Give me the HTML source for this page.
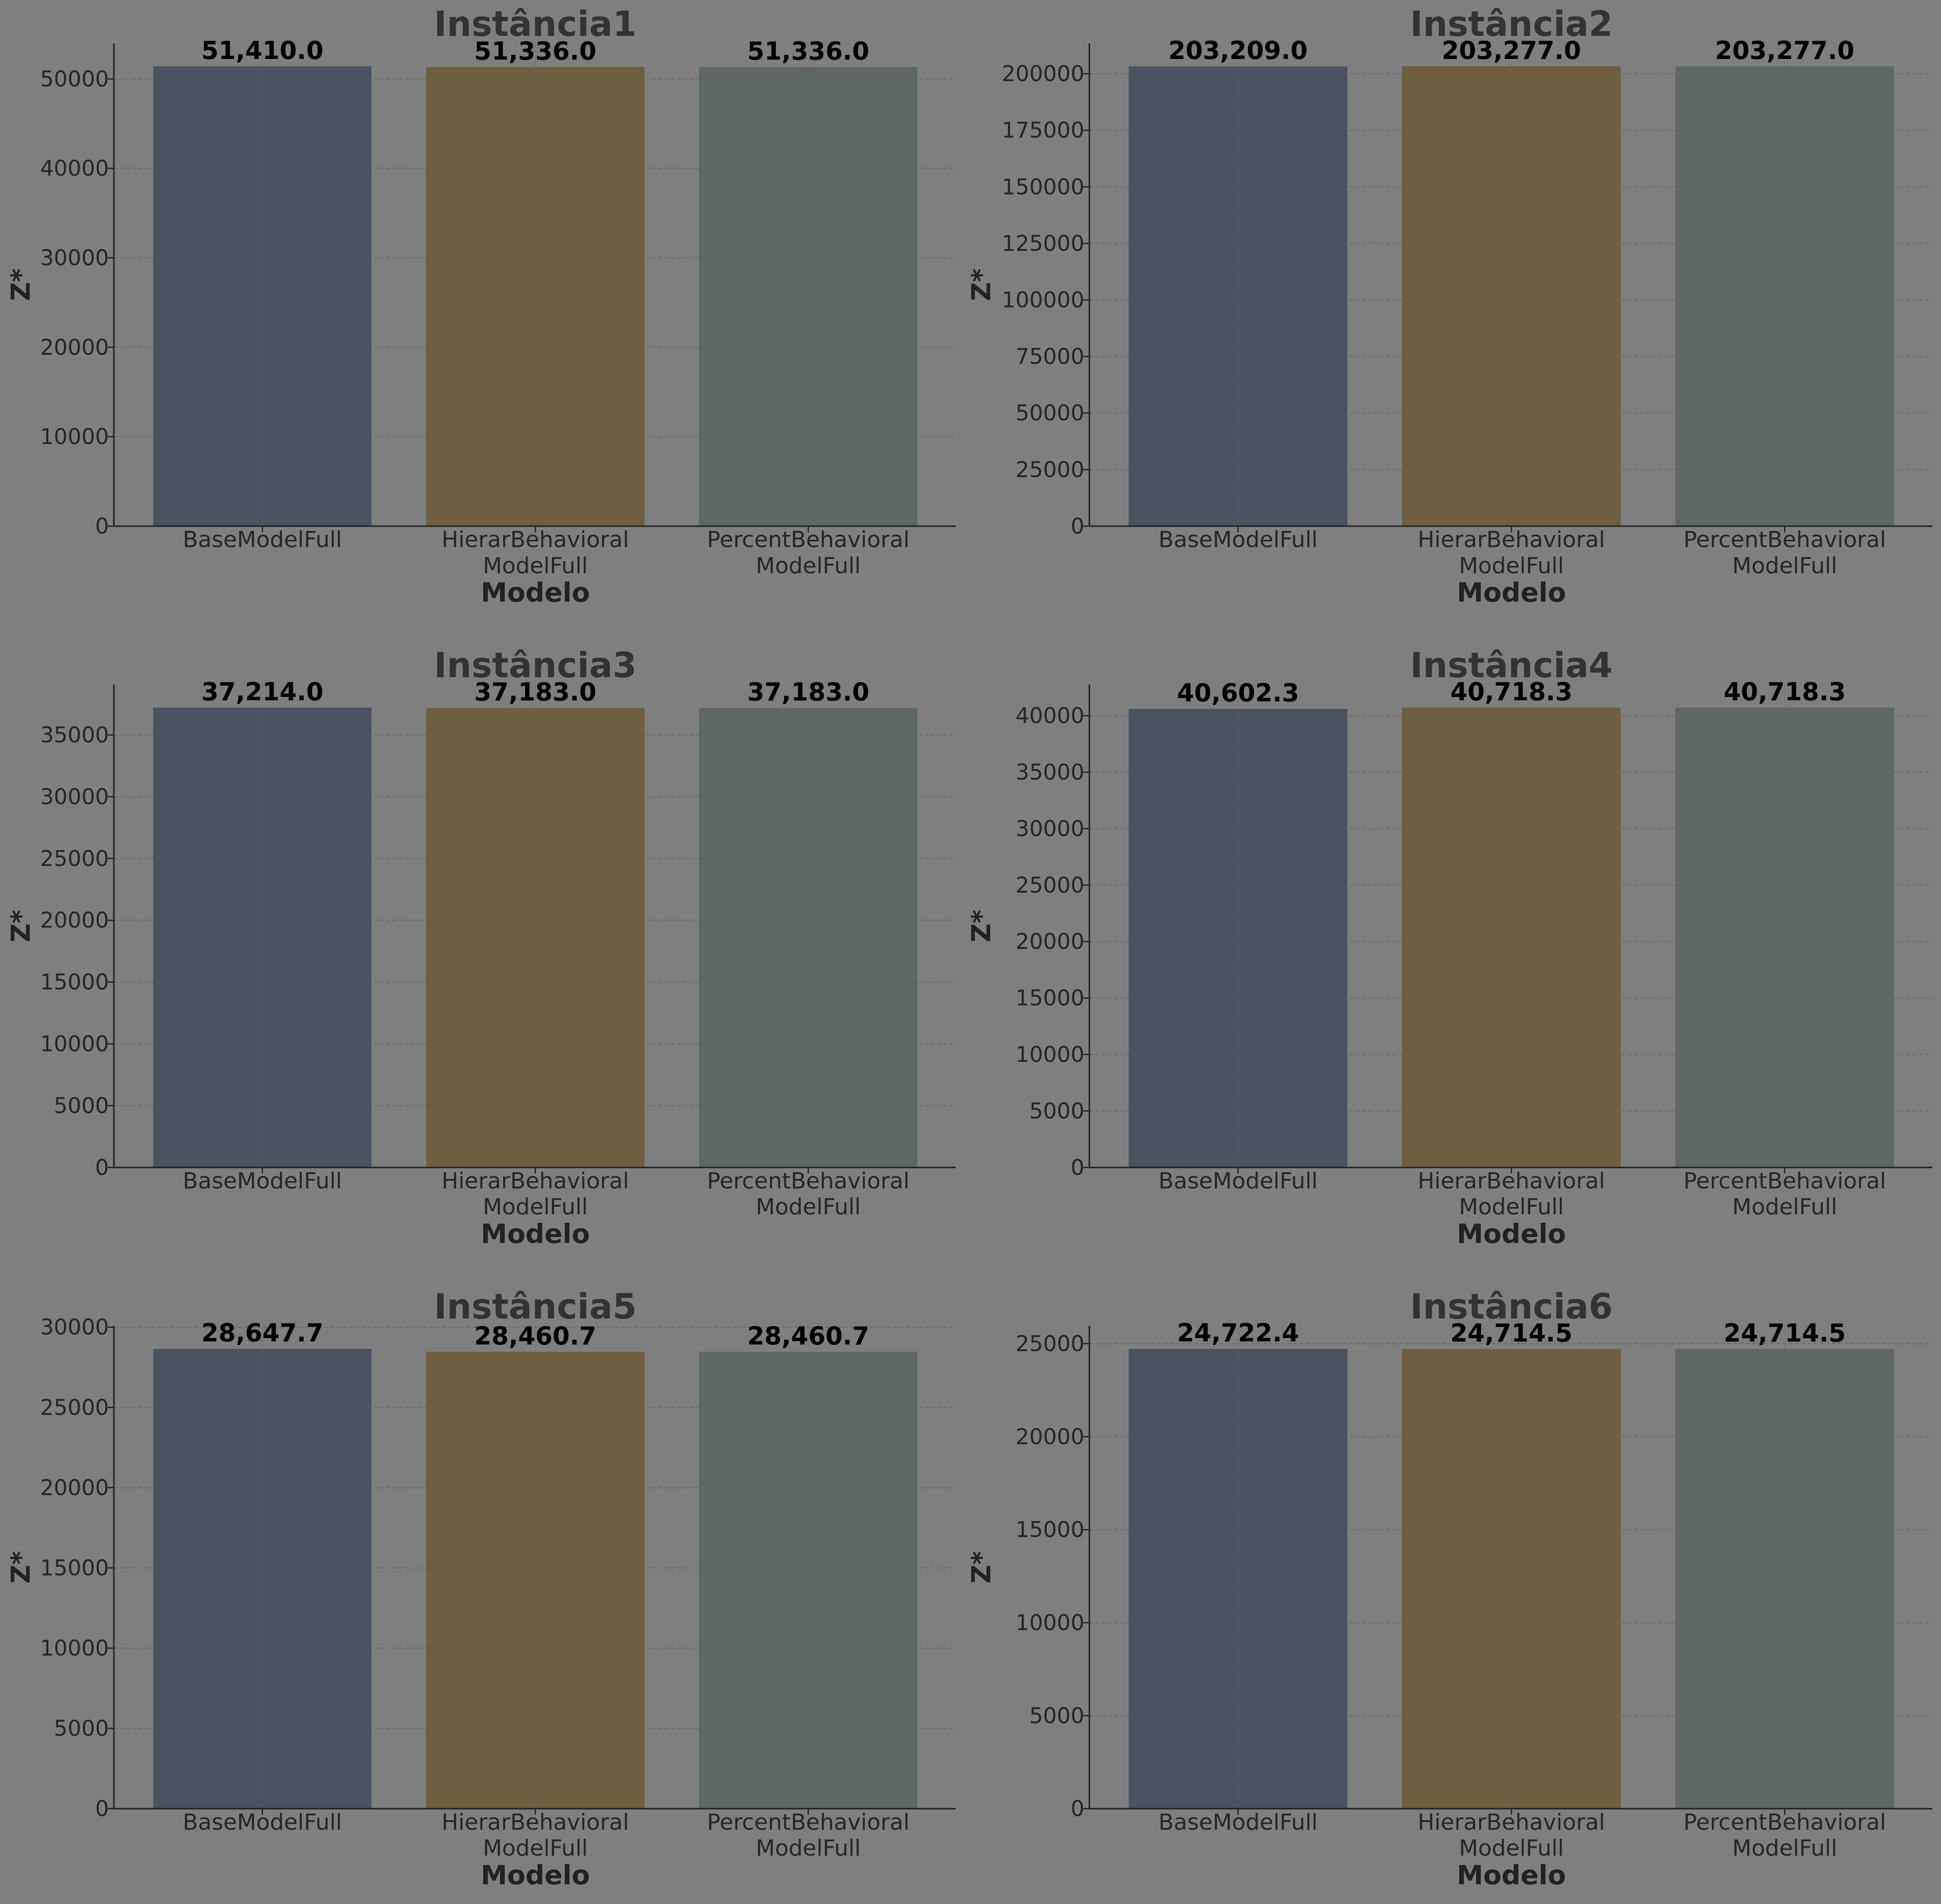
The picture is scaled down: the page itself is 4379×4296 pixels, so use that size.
<!DOCTYPE html>
<html><head><meta charset="utf-8"><style>
html,body{margin:0;padding:0;background:#7f7f7f;}
svg{display:block;}
text{font-family:"DejaVu Sans","Liberation Sans",sans-serif;}
</style></head><body>
<svg id="chart" width="4379" height="4296" viewBox="0 0 1568 1538" preserveAspectRatio="none" xmlns="http://www.w3.org/2000/svg">
<rect x="0" y="0" width="1568" height="1538" fill="#7f7f7f"/>
</svg>
<script>
const categories = [["BaseModelFull"], ["HierarBehavioral","ModelFull"], ["PercentBehavioral","ModelFull"]];
const titles = ["Instância1","Instância2","Instância3","Instância4","Instância5","Instância6"];
const values1 = [51410.0, 51336.0, 51336.0];
const values2 = [203209.0, 203277.0, 203277.0];
const values3 = [37214.0, 37183.0, 37183.0];
const values4 = [40602.3, 40718.3, 40718.3];
const values5 = [28647.7, 28460.7, 28460.7];
const values6 = [24722.4, 24714.5, 24714.5];
const ticks1 = [0,10000,20000,30000,40000,50000];
const ticks2 = [0,25000,50000,75000,100000,125000,150000,175000,200000];
const ticks3 = [0,5000,10000,15000,20000,25000,30000,35000];
const ticks4 = [0,5000,10000,15000,20000,25000,30000,35000,40000];
const ticks5 = [0,5000,10000,15000,20000,25000,30000];
const ticks6 = [0,5000,10000,15000,20000,25000];
const allValues = [values1,values2,values3,values4,values5,values6];
const allTicks = [ticks1,ticks2,ticks3,ticks4,ticks5,ticks6];
const colors = ["#4b5260","#6e5f3f","#5e6764"];

const NS = "http://www.w3.org/2000/svg";
const svg = document.getElementById("chart");
function mk(tag, attrs, parent){
  const e = document.createElementNS(NS, tag);
  for (const k in attrs) e.setAttribute(k, attrs[k]);
  (parent||svg).appendChild(e);
  return e;
}
const colX = [[92,772],[880,1561]];
const rowY = [[35,425],[553,943],[1071,1461]];
function fmt(v){ return v.toLocaleString("en-US",{minimumFractionDigits:1,maximumFractionDigits:1}); }

for (let p=0;p<6;p++){
  const [x0,x1] = colX[p%2];
  const [y0,y1] = rowY[Math.floor(p/2)];
  const vals = allValues[p], ticks = allTicks[p];
  const ymax = Math.max(...vals)*1.05;
  const xmin = -0.544, xmax = 2.54;
  const sx = v => x0 + (v - xmin)/(xmax - xmin)*(x1 - x0);
  const sy = v => y1 - v/ymax*(y1 - y0);
  const g = mk("g",{});
  
  
  ticks.forEach(t=>{
    const l = mk("line",{x1:x0,x2:x1,y1:sy(t),y2:sy(t),stroke:"#6a6a6a","stroke-width":0.8,"stroke-dasharray":"3,2"},g);
    
    
  });
  vals.forEach((v,i)=>{
    const bw = 0.8*(sx(1)-sx(0));
    const r = mk("rect",{x:sx(i)-bw/2,y:sy(v),width:bw,height:y1-sy(v),fill:colors[i]},g);
    
    
    const vl = mk("line",{x1:sx(i),x2:sx(i),y1:y0,y2:y1,stroke:"#666","stroke-width":0.6,"stroke-dasharray":"3,2","stroke-opacity":0.6},g);
    
    
    const t = mk("text",{x:sx(i),y:sy(v)-6,"text-anchor":"middle","font-size":20,"font-weight":"bold",fill:"#000"},g);
    t.textContent = fmt(v);
    
    
    const tk = mk("line",{x1:sx(i),x2:sx(i),y1:y1,y2:y1+5,stroke:"#222","stroke-width":1},g);
    
    
    categories[i].forEach((s,j)=>{
      const c = mk("text",{x:sx(i),y:y1+17+j*21,"text-anchor":"middle","font-size":18,fill:"#262626"},g);
      c.textContent = s;
      
      
    });
  });
  ticks.forEach(t=>{
    const tk = mk("line",{x1:x0-5,x2:x0,y1:sy(t),y2:sy(t),stroke:"#222","stroke-width":1},g);
    
    
    const tl = mk("text",{x:x0-4,y:sy(t)+6,"text-anchor":"end","font-size":17.5,fill:"#262626"},g);
    tl.textContent = String(t);
    
    
  });
  const sl = mk("line",{x1:x0,x2:x0,y1:y0,y2:y1,stroke:"#222","stroke-width":1.2},g);
  
  
  const sb = mk("line",{x1:x0,x2:x1,y1:y1,y2:y1,stroke:"#222","stroke-width":1.2},g);
  
  
  const ti = mk("text",{x:sx(1),y:y0-6,"text-anchor":"middle","font-size":28,"font-weight":"bold",fill:"#333"},g);
  ti.textContent = titles[p];
  
  
  const xl = mk("text",{x:sx(1),y:y1+61,"text-anchor":"middle","font-size":21.5,"font-weight":"bold",fill:"#222"},g);
  xl.textContent = "Modelo";
  
  
  const yx = (p%2===0) ? 24 : 800;
  const yc = (y0+y1)/2;
  const yl = mk("text",{x:yx,y:yc,"text-anchor":"middle","font-size":21,"font-weight":"bold",fill:"#222",transform:"rotate(-90 "+yx+" "+yc+")"},g);
  yl.textContent = "Z*";
  
  
}
</script>
</body></html>
